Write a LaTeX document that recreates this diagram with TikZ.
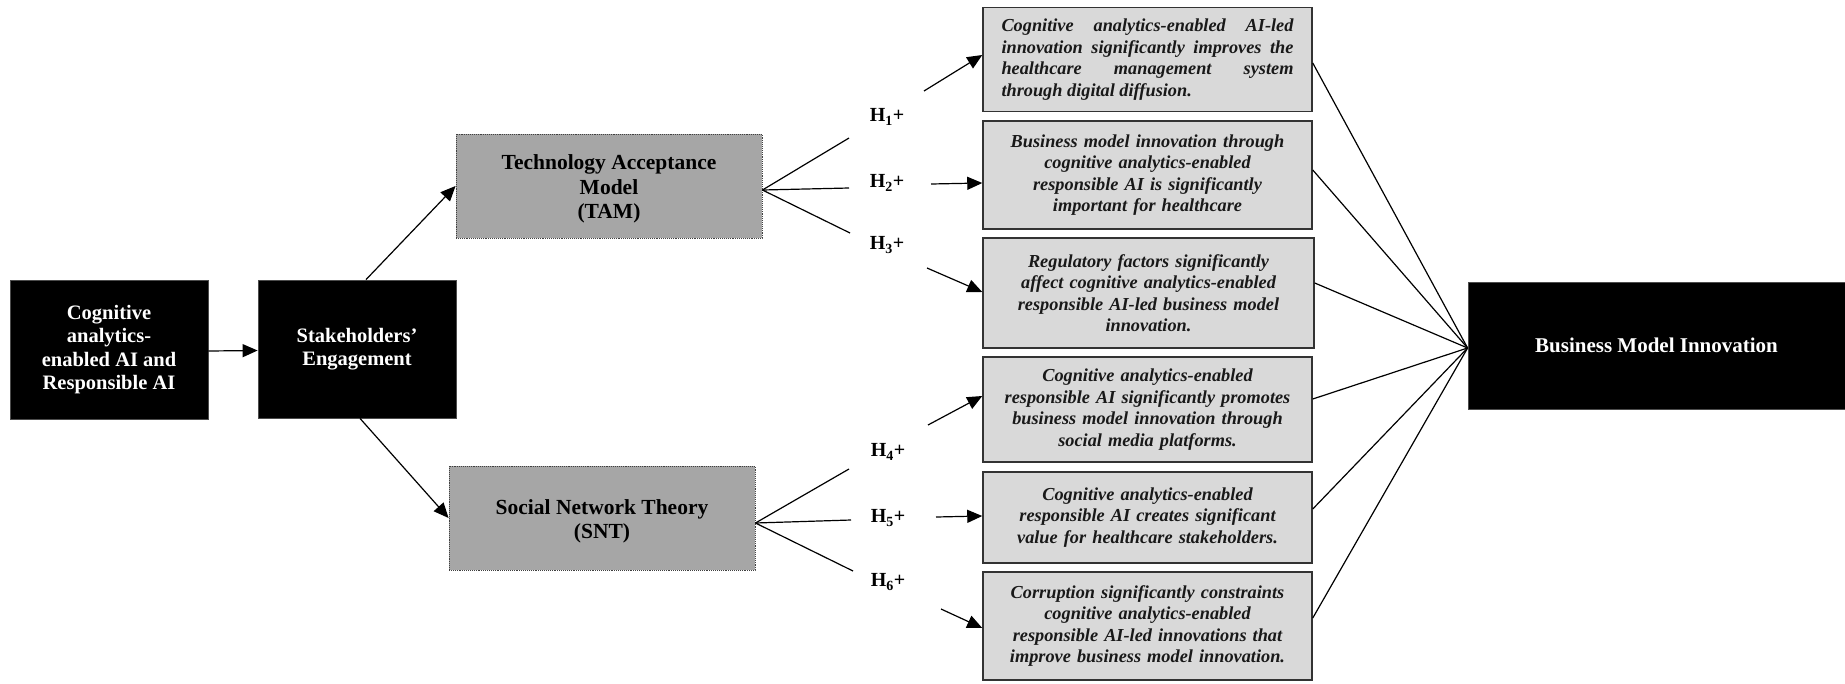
\documentclass[tikz,border=0pt]{standalone}
\usepackage{fontspec}
\setmainfont{Liberation Serif}
\usetikzlibrary{arrows.meta,calc}
\newcommand{\blkfont}{\fontsize{20.5}{23.3}\selectfont\bfseries}
\newcommand{\thfont}{\fontsize{21.5}{24.5}\selectfont\bfseries}
\newcommand{\bmifont}{\fontsize{21}{24}\selectfont\bfseries}
\newcommand{\hypfont}{\fontsize{18.3}{21.5}\selectfont\bfseries\itshape}
\newcommand{\hlabfont}{\fontsize{20}{22}\selectfont\bfseries}
\begin{document}
\begin{tikzpicture}[x=1pt,y=-1pt,
  blk/.style={draw=black!70, line width=0.8pt, fill=black, text=white, font=\blkfont, align=center, inner sep=0pt},
  theory/.style={draw=black!75, densely dotted, line width=0.9pt, fill=black!35, inner sep=0pt, minimum width=306pt, minimum height=104pt},
  thtext/.style={text=black, font=\thfont, align=center, inner sep=0pt},
  hyp/.style={draw=black!80, line width=1.5pt, fill=black!15, text=black!90, font=\hypfont, align=center, inner sep=0pt, minimum width=329pt, text width=320pt},
  conn/.style={line width=1.2pt, black},
  arr/.style={conn, -{Triangle[length=15pt,width=13pt]}},
  hlab/.style={font=\hlabfont, inner sep=0pt}]
\useasboundingbox (0,0) rectangle (1845,683);
\fill[white] (0,0) rectangle (1845,683);

% main nodes
\node[blk, minimum width=198pt, minimum height=139pt] (cog) at (109,349.5)
  {Cognitive\\analytics-\\enabled AI and\\Responsible AI};
\node[blk, minimum width=198pt, minimum height=138pt] (stake) at (357,349)
  {Stakeholders'\\Engagement};
\node[theory] (tam) at (609,186) {};
\node[thtext] (tamtext) at ([yshift=-3pt]tam.center) {Technology Acceptance\\Model\\(TAM)};
\node[theory] (snt) at (602,518) {};
\node[thtext] (snttext) at ([yshift=-3.5pt]snt.center) {Social Network Theory\\(SNT)};
\node[blk, font=\bmifont, minimum width=377pt, minimum height=127pt] (bmi) at (1656.5,345.5)
  {Business Model Innovation};

% hypothesis boxes
\node[hyp, minimum height=104pt, text width=292pt, align=justify] (h1) at (1147.5,59.5)
  {Cognitive analytics-enabled AI-led\linebreak innovation significantly improves the\linebreak healthcare management system\linebreak through digital diffusion.};
\node[hyp, minimum height=108pt] (h2) at (1147.5,175)
  {Business model innovation through\\cognitive analytics-enabled\\responsible AI is significantly\\important for healthcare};
\node[hyp, minimum height=110pt, minimum width=331pt] (h3) at (1148.5,293)
  {Regulatory factors significantly\\affect cognitive analytics-enabled\\responsible AI-led business model\\innovation.};
\node[hyp, minimum height=105pt] (h4) at (1147.5,409.5)
  {Cognitive analytics-enabled\\responsible AI significantly promotes\\business model innovation through\\social media platforms.};
\node[hyp, minimum height=91pt] (h5) at (1147.5,517.5)
  {Cognitive analytics-enabled\\responsible AI creates significant\\value for healthcare stakeholders.};
\node[hyp, minimum height=108pt] (h6) at (1147.5,626)
  {Corruption significantly constraints\\cognitive analytics-enabled\\responsible AI-led innovations that\\improve business model innovation.};

% hypothesis labels
\node[hlab] (l1) at (887,117) {H\textsubscript{1}+};
\node[hlab] (l2) at (887,183) {H\textsubscript{2}+};
\node[hlab] (l3) at (887,245) {H\textsubscript{3}+};
\node[hlab] (l4) at (888,452) {H\textsubscript{4}+};
\node[hlab] (l5) at (888,518) {H\textsubscript{5}+};
\node[hlab] (l6) at (888,582) {H\textsubscript{6}+};

% free ends
\coordinate (t1) at (849,138);
\coordinate (t2) at (849,188);
\coordinate (t3) at (850,233);
\coordinate (s1) at (849,469);
\coordinate (s2) at (851,520);
\coordinate (s3) at (853,571);
\coordinate (a1) at (924,91);
\coordinate (a2) at (931,184);
\coordinate (a3) at (927,268);
\coordinate (a4) at (928,425);
\coordinate (a5) at (936,517);
\coordinate (a6) at (941,609);
\coordinate (conv) at ([yshift=-2.5pt]bmi.west);

% left connectors
\draw[arr] ([yshift=-1.5pt]cog.east) -- ([yshift=-1.5pt]stake.west);
\draw[arr] ([xshift=9pt]stake.north) -- (tam.west);
\draw[arr] ([xshift=3pt]stake.south) -- (snt.west);

% fans
\draw[conn] ([yshift=-4pt]tam.east) -- (t1);
\draw[conn] ([yshift=-4pt]tam.east) -- (t2);
\draw[conn] ([yshift=-4pt]tam.east) -- (t3);
\draw[conn] ([yshift=-5pt]snt.east) -- (s1);
\draw[conn] ([yshift=-5pt]snt.east) -- (s2);
\draw[conn] ([yshift=-5pt]snt.east) -- (s3);

% arrows to hypotheses
\draw[arr] (a1) -- ([yshift=4.5pt]h1.west);
\draw[arr] (a2) -- ([yshift=-8pt]h2.west);
\draw[arr] (a3) -- ([yshift=1pt]h3.west);
\draw[arr] (a4) -- ([yshift=13.5pt]h4.west);
\draw[arr] (a5) -- ([yshift=1.5pt]h5.west);
\draw[arr] (a6) -- ([yshift=-2pt]h6.west);

% to BMI
\draw[conn] ([yshift=-3.5pt]h1.east) -- (conv);
\draw[conn] ([yshift=5pt]h2.east) -- (conv);
\draw[conn] ([yshift=10pt]h3.east) -- (conv);
\draw[conn] ([yshift=10.5pt]h4.east) -- (conv);
\draw[conn] ([yshift=8.5pt]h5.east) -- (conv);
\draw[conn] ([yshift=8pt]h6.east) -- (conv);
\end{tikzpicture}
\end{document}
